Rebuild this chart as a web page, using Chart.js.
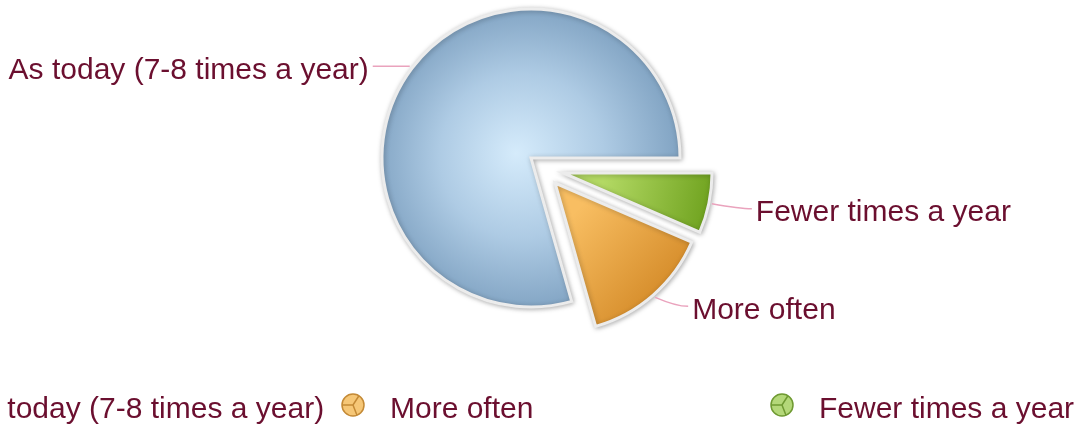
<!DOCTYPE html>
<html><head><meta charset="utf-8">
<script src="https://cdn.jsdelivr.net/npm/chart.js@4.4.1/dist/chart.umd.min.js"></script>
<style>html,body{margin:0;padding:0;background:#fff;overflow:hidden}#wrap{position:relative;width:1079px;height:426px}</style>
</head><body><div id="wrap"><canvas id="c" width="1079" height="426"></canvas></div>
<script>
// ---- data ----
const categories = ['As today (7-8 times a year)', 'More often', 'Fewer times a year'];
const shares = [79.4, 14.1, 6.5];
// clockwise drawing order starting at the blue slice
const drawOrder = [0, 2, 1];

// ---- style ----
const textColor = '#6b0f2f';
const leaderColor = '#eaa3bd';
const fontSpec = '30px "Liberation Sans", Arial, Helvetica, sans-serif';
const explodeVec = [[0, 0], [24, 25], [32, 15]];
const baseColors = ['#9dbdd9', '#e3a040', '#8fbf3c'];
const legendIconX = [-73, 353, 782];
const legendY = 410;

const pieLabels = drawOrder.map(i => categories[i]);
const pieValues = drawOrder.map(i => shares[i]);
const total = shares.reduce((a, b) => a + b, 0);
const PIE_R = 149;

function sliceFill(i, chart) {
  const a = chart.chartArea;
  if (!a) return baseColors[i];
  const cx = (a.left + a.right) / 2, cy = (a.top + a.bottom) / 2;
  const c = chart.ctx;
  let g;
  if (i === 0) {
    g = c.createRadialGradient(cx - 15, cy - 5, 0, cx - 5, cy, PIE_R);
    g.addColorStop(0, '#d5ebfb');
    g.addColorStop(0.55, '#aecbe4');
    g.addColorStop(1, '#84a6c5');
  } else if (i === 1) {
    g = c.createLinearGradient(cx + 10, cy + 40, cx + 140, cy + 160);
    g.addColorStop(0, '#f8be62');
    g.addColorStop(1, '#c57510');
  } else {
    g = c.createLinearGradient(cx + 40, cy + 10, cx + 180, cy + 40);
    g.addColorStop(0, '#b3d964');
    g.addColorStop(1, '#5b920a');
  }
  return g;
}

const explodePlugin = {
  id: 'explode',
  beforeDatasetDraw(chart, args) {
    const meta = chart.getDatasetMeta(args.index);
    const ctx = chart.ctx;
    meta.data.forEach((el, j) => {
      const i = drawOrder[j];
      const v = explodeVec[i];
      ctx.save();
      ctx.translate(v[0], v[1]);
      ctx.shadowColor = 'rgba(0,0,0,0.28)';
      ctx.shadowBlur = 5;
      ctx.shadowOffsetX = 1;
      ctx.shadowOffsetY = 1;
      el.draw(ctx, chart.chartArea);
      ctx.restore();
    });
    return false;
  }
};

const labelPlugin = {
  id: 'sliceLabels',
  afterDatasetsDraw(chart) {
    const meta = chart.getDatasetMeta(0);
    const ctx = chart.ctx;
    const place = {
      0: {dx: -41, dy: 4, align: 'right'},
      1: {dx: 37, dy: 13, align: 'left'},
      2: {dx: 44, dy: 9, align: 'left'}
    };
    ctx.save();
    ctx.font = fontSpec;
    ctx.textBaseline = 'middle';
    meta.data.forEach((el, j) => {
      const i = drawOrder[j];
      const mid = (el.startAngle + el.endAngle) / 2;
      const v = explodeVec[i];
      const r = el.outerRadius + 3;
      const ax = el.x + v[0] + Math.cos(mid) * r;
      const ay = el.y + v[1] + Math.sin(mid) * r;
      const p = place[i];
      const tx = ax + p.dx, ty = ay + p.dy;
      const lx = p.align === 'right' ? tx + 4 : tx - 4;
      const ly = ty - 4;
      ctx.strokeStyle = leaderColor;
      ctx.lineWidth = 1.5;
      ctx.beginPath();
      ctx.moveTo(ax, ay);
      const mx = p.align === 'right' ? lx + 18 : lx - 12;
      ctx.quadraticCurveTo(mx, ly, lx, ly);
      ctx.stroke();
      ctx.fillStyle = textColor;
      ctx.textAlign = p.align;
      ctx.fillText(categories[i], tx, ty);
    });
    ctx.restore();
  }
};

function drawIcon(ctx, cx, cy, fill, stroke) {
  const r = 11;
  ctx.save();
  ctx.fillStyle = fill;
  ctx.strokeStyle = stroke;
  ctx.lineWidth = 1.5;
  ctx.beginPath();
  ctx.arc(cx, cy, r, 0, Math.PI * 2);
  ctx.fill();
  ctx.stroke();
  ctx.beginPath();
  ctx.moveTo(cx - r, cy); ctx.lineTo(cx, cy);
  ctx.lineTo(cx + r * Math.cos(-1.0), cy + r * Math.sin(-1.0));
  ctx.moveTo(cx, cy);
  ctx.lineTo(cx + r * Math.cos(1.2), cy + r * Math.sin(1.2));
  ctx.stroke();
  ctx.restore();
}

const legendPlugin = {
  id: 'bottomLegend',
  afterDraw(chart) {
    const ctx = chart.ctx;
    const iconFill = ['#bcd6ec', '#f6c777', '#b4d879'];
    const iconStroke = ['#7d9cba', '#c48a36', '#6f9a32'];
    ctx.save();
    ctx.font = fontSpec;
    ctx.textBaseline = 'middle';
    ctx.textAlign = 'left';
    categories.forEach((name, i) => {
      const ix = legendIconX[i];
      drawIcon(ctx, ix, legendY - 5, iconFill[i], iconStroke[i]);
      ctx.fillStyle = textColor;
      ctx.fillText(name, ix + 37, legendY);
    });
    ctx.restore();
  }
};

new Chart(document.getElementById('c'), {
  type: 'pie',
  data: {
    labels: pieLabels,
    datasets: [{
      data: pieValues,
      backgroundColor: (c) => sliceFill(drawOrder[c.dataIndex], c.chart),
      borderColor: '#ececec',
      borderWidth: 3,
      borderJoinStyle: 'miter'
    }]
  },
  options: {
    responsive: false,
    animation: false,
    devicePixelRatio: 1,
    radius: PIE_R,
    rotation: 90 + 360 * (total - shares[0]) / total,
    layout: {padding: {left: 0, right: 17, top: 0, bottom: 110}},
    plugins: {legend: {display: false}, tooltip: {enabled: false}}
  },
  plugins: [explodePlugin, labelPlugin, legendPlugin]
});
</script>
</body></html>
